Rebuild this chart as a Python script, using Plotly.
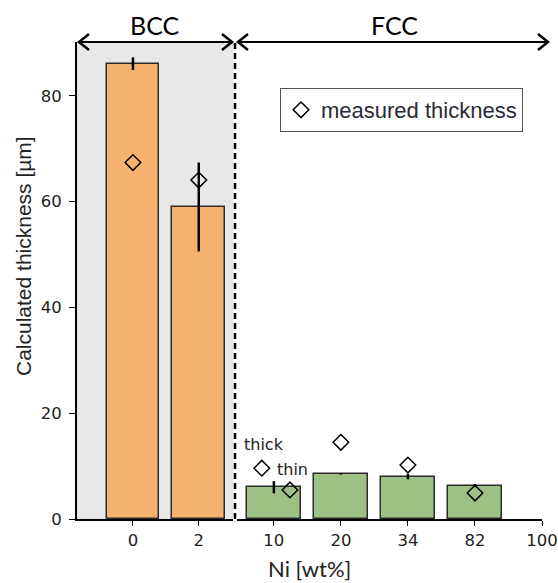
import plotly.graph_objects as go

# ---------------- data ----------------
bcc_ni = ["0", "2"]
bcc_calc = [86.1, 59.0]
bcc_err = [1.2, 8.4]
bcc_meas = [67.4, 64.1]

fcc_ni = ["10", "20", "34", "82"]
fcc_calc = [6.0, 8.5, 8.0, 6.3]
fcc_err = [1.15, 0.1, 0.5, 0.3]
fcc_tick_labels = ["10", "20", "34", "82", "100"]

# measured thickness, FCC: 10 wt% has a thick and a thin sample
fcc_meas_labels = ["10 thick", "10 thin", "20", "34", "82"]
fcc_meas_cat = [0, 0, 1, 2, 3]          # index of the Ni category
fcc_meas_offset = [-0.18, 0.24, 0, 0, 0]
fcc_meas = [9.6, 5.5, 14.5, 10.2, 4.9]

W, H = 558, 583
def px(x):
    return x / W
def py(y):
    return 1 - y / H

ORANGE = "#F5B26E"
GREEN = "#9DC184"
EDGE = "#2a2a2a"

fig = go.Figure()

bcc_x = list(range(len(bcc_ni)))
fcc_x = list(range(len(fcc_ni)))

fig.add_trace(go.Bar(
    x=bcc_x, y=bcc_calc, width=0.8, xaxis="x", yaxis="y",
    marker=dict(color=ORANGE, line=dict(color=EDGE, width=1.5)),
    error_y=dict(type="data", array=bcc_err, color="black", thickness=2.5, width=0),
    showlegend=False))
fig.add_trace(go.Bar(
    x=fcc_x, y=fcc_calc, width=0.8, xaxis="x2", yaxis="y",
    marker=dict(color=GREEN, line=dict(color=EDGE, width=1.5)),
    error_y=dict(type="data", array=fcc_err, color="black", thickness=2.5, width=0),
    showlegend=False))

dmark = dict(symbol="diamond-open", size=12, color="black", line=dict(width=1.5, color="black"))
fig.add_trace(go.Scatter(
    x=bcc_x, y=bcc_meas, mode="markers", xaxis="x", yaxis="y",
    marker=dmark, name="measured thickness", showlegend=True))
fig.add_trace(go.Scatter(
    x=[c + o for c, o in zip(fcc_meas_cat, fcc_meas_offset)], y=fcc_meas,
    mode="markers", xaxis="x2", yaxis="y", text=fcc_meas_labels,
    marker=dmark, name="measured thickness", showlegend=False))

tickfont = dict(family="DejaVu Sans", size=16.5, color="#222")

fig.update_layout(
    width=W, height=H,
    margin=dict(l=0, r=0, t=0, b=0),
    paper_bgcolor="white", plot_bgcolor="rgba(0,0,0,0)",
    bargap=0,
    xaxis=dict(domain=[px(77), px(233)], range=[-0.85, 1.52], anchor="y",
               tickvals=bcc_x, ticktext=bcc_ni, tickfont=tickfont,
               showline=True, linecolor="black", linewidth=2,
               ticks="outside", ticklen=5, tickwidth=1.2, tickcolor="black",
               showgrid=False, zeroline=False, automargin=False),
    xaxis2=dict(domain=[px(237), px(542)], range=[-0.55, 4], anchor="y",
                tickvals=list(range(len(fcc_tick_labels))), ticktext=fcc_tick_labels,
                tickfont=tickfont,
                showline=True, linecolor="black", linewidth=2,
                ticks="outside", ticklen=5, tickwidth=1.2, tickcolor="black",
                showgrid=False, zeroline=False, automargin=False),
    yaxis=dict(domain=[py(519), py(42)], range=[0, 90.2], anchor="x",
               tickvals=[0, 20, 40, 60, 80], tickfont=tickfont,
               showline=True, linecolor="black", linewidth=2,
               ticks="outside", ticklen=6, tickwidth=1.2, tickcolor="black",
               ticklabelstandoff=4,
               showgrid=False, zeroline=False, automargin=False),
    legend=dict(x=px(280), y=py(88), xanchor="left", yanchor="top",
                bordercolor="#555", borderwidth=1, bgcolor="white",
                font=dict(family="Liberation Sans", size=22, color="#2a2a38"),
                itemwidth=30),
)

shapes = []
# grey BCC background
shapes.append(dict(type="rect", xref="x domain", yref="y domain", x0=0, x1=1, y0=0, y1=1,
                   fillcolor="#E8E8E8", line=dict(width=0), layer="below"))
# dashed separator
shapes.append(dict(type="line", xref="paper", yref="paper", x0=px(235), x1=px(235),
                   y0=py(519), y1=py(42), line=dict(color="black", width=2.5, dash="6px,4px")))

def arrow(x0, x1, y):
    out = [dict(type="line", xref="paper", yref="paper", x0=px(x0), x1=px(x1),
                y0=py(y), y1=py(y), line=dict(color="black", width=2))]
    dx, dy = 10, 8
    for tip, s in ((x0, 1), (x1, -1)):
        path = (f"M {px(tip + s*dx)},{py(y - dy)} L {px(tip)},{py(y)} "
                f"L {px(tip + s*dx)},{py(y + dy)}")
        out.append(dict(type="path", xref="paper", yref="paper", path=path,
                        line=dict(color="black", width=2.5)))
    return out

shapes += arrow(79, 232, 42)
shapes += arrow(238, 548, 42)
fig.update_layout(shapes=shapes)

titlefont = dict(family="Lato", size=25, color="black")
center = dict(xanchor="center", yanchor="middle", showarrow=False)
ann = [
    dict(text="BCC", x=px(155), y=py(25), xref="paper", yref="paper",
         font=titlefont, **center),
    dict(text="FCC", x=px(394), y=py(25), xref="paper", yref="paper",
         font=titlefont, **center),
    dict(text="Ni [wt%]", x=px(309), y=py(568), xref="paper", yref="paper",
         font=dict(family="Lato", size=22, color="#222"), **center),
    dict(text="Calculated thickness [µm]", x=px(23), y=py(256), xref="paper", yref="paper",
         textangle=-90,
         font=dict(family="Liberation Sans", size=21, color="#222"), **center),
    dict(text="thick", x=-0.15, y=14.1, xref="x2", yref="y",
         font=dict(family="DejaVu Sans", size=16, color="#222"), **center),
    dict(text="thin", x=0.28, y=9.4, xref="x2", yref="y",
         font=dict(family="DejaVu Sans", size=16, color="#222"), **center),
]
fig.update_layout(annotations=ann)

fig.write_html("out.html")
